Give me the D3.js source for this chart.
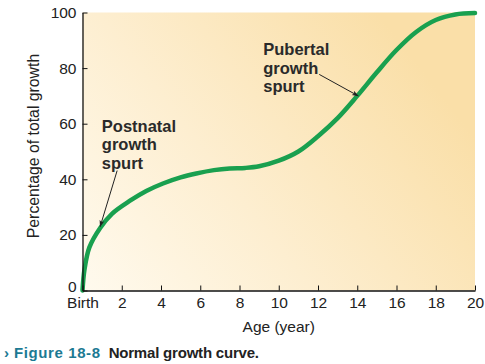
<!DOCTYPE html>
<html>
<head>
<meta charset="utf-8">
<script src="https://cdn.jsdelivr.net/npm/d3@7"></script>
<style>
  body { margin: 0; background: #fff; }
  svg { display: block; font-family: "Liberation Sans", Arial, sans-serif; }
</style>
</head>
<body>
<svg id="chart" width="485" height="364"></svg>
<script>
// values
const ages = [0, 0.1, 0.35, 0.9, 1.5, 2.4, 3.25, 4.1, 5, 5.8, 6.7, 7.5, 8.3, 9, 10, 11, 12, 13, 14, 15, 16, 17, 18, 19, 20];
const growth = [0, 7.5, 15.5, 22.5, 27.6, 32.2, 35.8, 38.5, 40.7, 42.1, 43.3, 43.9, 44.1, 44.7, 46.7, 50, 55.5, 62, 70, 78.5, 86.5, 93, 97.3, 99.3, 99.8];
const xTicks = [0, 2, 4, 6, 8, 10, 12, 14, 16, 18, 20];
const xTickLabels = ["Birth", "2", "4", "6", "8", "10", "12", "14", "16", "18", "20"];
const yTicks = [0, 20, 40, 60, 80, 100];
const notes = [
    { lines: ["Postnatal", "growth", "spurt"], tip: [0.9, 23] },
    { lines: ["Pubertal", "growth", "spurt"], tip: [14.05, 70] }
];

const svg = d3.select("#chart");
const margin = { top: 12.5, right: 10, bottom: 73.5, left: 82.5 };
const width = 485 - margin.left - margin.right;
const height = 364 - margin.top - margin.bottom;

const x = d3.scaleLinear().domain([0, 20]).range([0, width]);
const y = d3.scaleLinear().domain([0, 100]).range([height, 0]);

const defs = svg.append("defs");
const grad = defs.append("linearGradient")
    .attr("id", "bg")
    .attr("x1", 0).attr("y1", 1)
    .attr("x2", 1).attr("y2", 0.45);
grad.append("stop").attr("offset", "0%").attr("stop-color", "#fffaee");
grad.append("stop").attr("offset", "45%").attr("stop-color", "#fdeed0");
grad.append("stop").attr("offset", "100%").attr("stop-color", "#fadfa8");

defs.append("marker")
    .attr("id", "arrow")
    .attr("viewBox", "0 0 10 10")
    .attr("refX", 9).attr("refY", 5)
    .attr("markerWidth", 7).attr("markerHeight", 7)
    .attr("orient", "auto")
    .append("path")
    .attr("d", "M0,1.5 L10,5 L0,8.5 L2.5,5 Z")
    .attr("fill", "#222");

const g = svg.append("g").attr("transform", `translate(${margin.left},${margin.top})`);

g.append("rect")
    .attr("width", width)
    .attr("height", height)
    .attr("fill", "url(#bg)");

// growth curve
const line = d3.line()
    .x((d, i) => x(ages[i]))
    .y((d) => y(d))
    .curve(d3.curveCatmullRom.alpha(0.5));

g.append("path")
    .datum(growth)
    .attr("d", line)
    .attr("fill", "none")
    .attr("stroke", "#19a04f")
    .attr("stroke-width", 4.5)
    .attr("stroke-linecap", "round");

// axes
const xAxis = g.append("g")
    .attr("transform", `translate(0,${height})`)
    .call(d3.axisBottom(x)
        .tickValues(xTicks)
        .tickFormat((d, i) => xTickLabels[i])
        .tickSizeInner(-5)
        .tickSizeOuter(0)
        .tickPadding(6.5));

const yAxis = g.append("g")
    .call(d3.axisLeft(y)
        .tickValues(yTicks)
        .tickSizeInner(-5)
        .tickSizeOuter(0)
        .tickPadding(6));

[xAxis, yAxis].forEach((a) => {
    a.select(".domain").attr("stroke", "#111").attr("stroke-width", 1.3);
    a.selectAll(".tick line").attr("stroke", "#111").attr("stroke-width", 1);
    a.selectAll(".tick text")
        .attr("fill", "#222")
        .style("font-size", "15.5px")
        .style("font-family", "'Liberation Sans', Arial, sans-serif");
});
// the zero label sits a little above the baseline
yAxis.selectAll(".tick text").filter((d) => d === 0).attr("y", -4);

g.append("text")
    .attr("x", width / 2)
    .attr("y", height + 41)
    .attr("text-anchor", "middle")
    .attr("fill", "#222")
    .style("font-size", "15.5px")
    .text("Age (year)");

svg.append("text")
    .attr("transform", "translate(38.5,146) rotate(-90)")
    .attr("text-anchor", "middle")
    .attr("fill", "#222")
    .style("font-size", "15.8px")
    .text("Percentage of total growth");

// annotations
const noteOffsets = [
    { tx: 1.7, ty: -94.5, ax: 17, ay: -56 },
    { tx: -95, ty: -40.5, ax: -39, ay: -21.5 }
];
notes.forEach((n, k) => {
    const px = x(n.tip[0]);
    const py = y(n.tip[1]);
    const o = noteOffsets[k];
    const t = g.append("text")
        .attr("fill", "#2a2a2a")
        .style("font-size", "16.5px")
        .style("font-weight", "bold");
    n.lines.forEach((l, j) => {
        t.append("tspan")
            .attr("x", px + o.tx)
            .attr("y", py + o.ty + j * 18.3)
            .text(l);
    });
    g.append("line")
        .attr("x1", px + o.ax).attr("y1", py + o.ay)
        .attr("x2", px).attr("y2", py)
        .attr("stroke", "#222")
        .attr("stroke-width", 1)
        .attr("marker-end", "url(#arrow)");
});

// caption
const cap = svg.append("text")
    .attr("x", 4)
    .attr("y", 357.5)
    .style("font-size", "15px")
    .style("font-weight", "bold");
cap.append("tspan").attr("fill", "#1c7a93").text("\u203A");
cap.append("tspan").attr("fill", "#1c7a93").attr("dx", 5)
    .style("letter-spacing", "0.6px").text("Figure 18-8");
cap.append("tspan").attr("fill", "#222").attr("dx", 8)
    .style("letter-spacing", "-0.2px").text("Normal growth curve.");
</script>
</body>
</html>
